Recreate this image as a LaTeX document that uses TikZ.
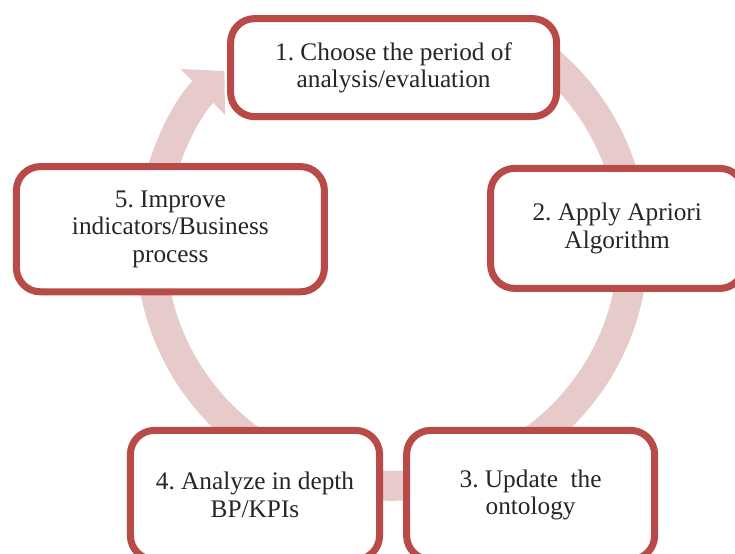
\documentclass[tikz,border=0pt]{standalone}
\usepackage{fontspec}
\setmainfont{Liberation Serif}
\usetikzlibrary{positioning, shadows, arrows.meta}
\definecolor{boxred}{RGB}{184,74,72}
\definecolor{ringpink}{RGB}{231,203,203}
\definecolor{txtgray}{RGB}{38,38,38}
\frenchspacing

\begin{document}
\begin{tikzpicture}
	[box/.style={draw=boxred, line width=5pt, rounded corners=0.6cm, fill=white,
	   align=center, text=txtgray, font=\fontsize{18}{19.5}\selectfont, inner sep=0pt,
	   drop shadow={shadow xshift=0.03cm, shadow yshift=-0.08cm, opacity=0.3, fill=black}},
	 ring/.style={ringpink, line width=0.75cm, -{Triangle[length=0.75cm, width=1.55cm]}}]
   \useasboundingbox (0,0) rectangle (18.375,13.85);
   % big circular arrow behind the steps
   \draw[ring] (9.8,7.735) ++(52:6.03) arc[start angle=52, end angle=-226, radius=6.03];
   % the five steps
   \node[box, minimum width=8.15cm, minimum height=2.45cm] (s1) at (9.84,12.16) {1. Choose the period of\\analysis/evaluation};
   \node[box, minimum width=6.33cm, minimum height=3.0cm] (s2) at (15.43,8.14) {2. Apply Apriori\\Algorithm};
   \node[box, minimum width=6.23cm, minimum height=3.23cm] (s4) at (6.375,1.475) {4. Analyze in depth\\BP/KPIs};
   \node[box, minimum width=6.2cm, minimum height=3.23cm] (s3) [right=0.5cm of s4] {3. Update\ \ the\\ontology};
   \node[box, minimum width=7.7cm, minimum height=3.13cm] (s5) at (4.26,8.12) {5. Improve\\indicators/Business\\process};
\end{tikzpicture}
\end{document}
